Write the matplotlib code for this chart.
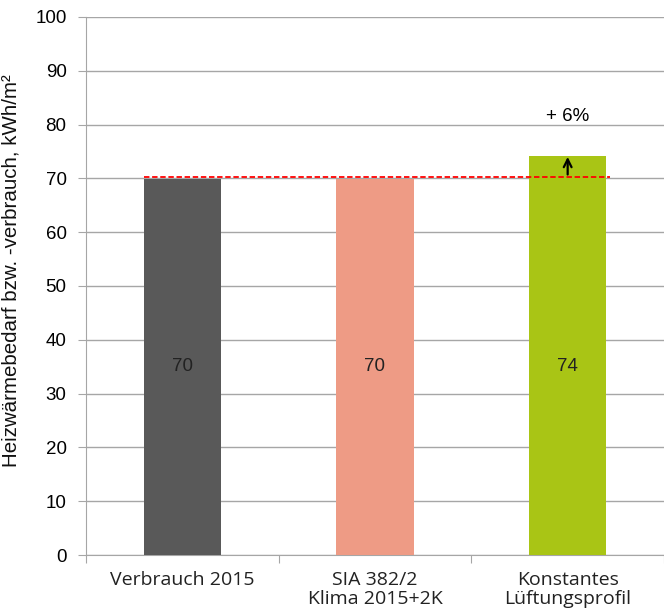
import numpy as np
import matplotlib.pyplot as plt

categories = ['Verbrauch 2015', 'SIA 382/2\nKlima 2015+2K', 'Konstantes\nLüftungsprofil']
values = [69.8, 69.8, 74.2]
labels = ['70', '70', '74']
colors = ['#595959', '#EE9B85', '#A9C515']
reference_level = 70.2
increase_text = '+ 6%'

plt.rcParams['font.family'] = ['Liberation Sans', 'DejaVu Sans']

fig = plt.figure(figsize=(6.64, 6.16), dpi=100)
ax = fig.add_axes([0.1295, 0.099, 0.8705, 0.8735])

x = np.arange(len(categories))
ax.bar(x, values, width=0.4, color=colors, zorder=3)

for xi, v, lab in zip(x, values, labels):
    ax.text(xi, 35, lab, ha='center', va='center', fontsize=13.5, color='#222222', zorder=4)

# Referenzlinie und Pfeil
ax.plot([-0.2, 2.22], [reference_level, reference_level], color='#FF0000',
        linestyle=(0, (3, 1.5)), linewidth=1.3, zorder=5)
ax.annotate('', xy=(2, values[2] + 0.3), xytext=(2, reference_level),
            arrowprops=dict(arrowstyle='->', color='black', lw=1.6,
                            mutation_scale=14), zorder=6)
ax.text(2, 81.5, increase_text, ha='center', va='center', fontsize=13.5)

ax.set_xlim(-0.5, 2.5)
ax.set_ylim(0, 100)
ax.set_yticks(np.arange(0, 101, 10))
ax.yaxis.grid(True, color='#A6A6A6', linewidth=1)
ax.set_axisbelow(True)
ax.tick_params(axis='y', labelsize=13.5, length=6, color='#A6A6A6', pad=8)

ax.set_xticks([-0.5, 0.5, 1.5, 2.5])
ax.set_xticklabels([])
ax.tick_params(axis='x', length=6, color='#A6A6A6')
for xi, cat in zip(x, categories):
    ax.text(xi, -2.9, cat, ha='center', va='top', fontsize=14, linespacing=1.1,
            family=['Open Sans', 'DejaVu Sans'], color='#222222')

for side in ['top', 'right']:
    ax.spines[side].set_visible(False)
ax.spines['left'].set_color('#A6A6A6')
ax.spines['bottom'].set_color('#A6A6A6')

ax.set_ylabel('Heizwärmebedarf bzw. -verbrauch, kWh/m²', fontsize=14.8, color='#111111')
ax.yaxis.set_label_coords(-0.114, 0.528)

fig.savefig('out.png', dpi=100)
